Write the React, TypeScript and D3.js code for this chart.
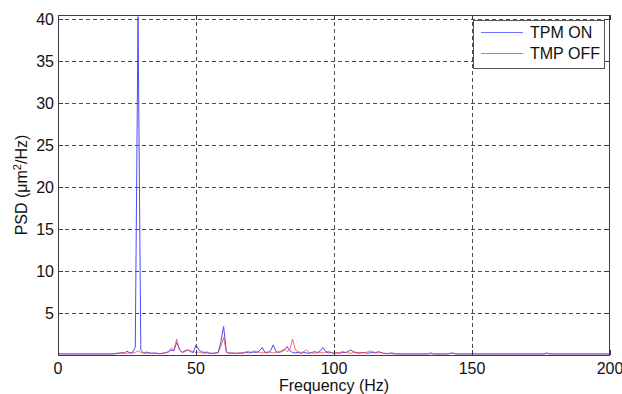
import React, { useRef, useEffect } from 'react'
import * as d3 from 'd3'

// frequency grid, 1 Hz steps from 0 to 200 Hz
const freqHz: number[] = d3.range(0, 201)

// PSD values (um^2/Hz), one per Hz
const tpmOn: number[] = [
  0.15, 0.12, 0.12, 0.11, 0.12, 0.12, 0.11, 0.12, 0.12, 0.11, 0.12, 0.12, 0.11, 0.12, 0.12, 0.11, 0.12, 0.12, 0.11, 0.12,
  0.12, 0.15, 0.2, 0.3, 0.2, 0.45, 0.25, 0.3, 0.9, 40.3, 0.6, 0.2, 0.35, 0.25, 0.2, 0.25, 0.2, 0.15, 0.2, 0.3,
  0.35, 0.6, 0.5, 1.5, 0.7, 0.3, 0.5, 0.6, 0.4, 0.3, 1.2, 0.6, 0.4, 0.3, 0.35, 0.2, 0.2, 0.25, 0.3, 1.5,
  3.4, 0.4, 0.2, 0.25, 0.2, 0.2, 0.25, 0.2, 0.3, 0.25, 0.3, 0.35, 0.3, 0.5, 0.9, 0.3, 0.25, 0.5, 1.2, 0.4,
  0.3, 0.4, 0.6, 1.0, 0.5, 0.3, 0.25, 0.3, 0.2, 0.3, 0.25, 0.2, 0.3, 0.4, 0.3, 0.5, 0.9, 0.4, 0.25, 0.3,
  0.2, 0.25, 0.2, 0.3, 0.3, 0.4, 0.6, 0.4, 0.3, 0.2, 0.25, 0.3, 0.2, 0.25, 0.3, 0.25, 0.4, 0.3, 0.2, 0.15,
  0.2, 0.25, 0.15, 0.12, 0.12, 0.11, 0.12, 0.12, 0.11, 0.12, 0.12, 0.12, 0.11, 0.12, 0.12, 0.25, 0.12, 0.12, 0.11, 0.12,
  0.12, 0.12, 0.2, 0.25, 0.12, 0.12, 0.11, 0.12, 0.12, 0.11, 0.12, 0.12, 0.11, 0.12, 0.12, 0.11, 0.12, 0.12, 0.11, 0.12,
  0.12, 0.11, 0.12, 0.12, 0.11, 0.12, 0.12, 0.11, 0.12, 0.12, 0.11, 0.12, 0.12, 0.11, 0.12, 0.12, 0.11, 0.25, 0.12, 0.12,
  0.11, 0.12, 0.12, 0.11, 0.12, 0.12, 0.11, 0.12, 0.12, 0.11, 0.12, 0.12, 0.11, 0.12, 0.12, 0.11, 0.12, 0.12, 0.11, 0.12,
  0.12
]

const tmpOff: number[] = [
  0.15, 0.15, 0.14, 0.15, 0.15, 0.14, 0.15, 0.15, 0.14, 0.15, 0.15, 0.14, 0.15, 0.15, 0.14, 0.15, 0.15, 0.14, 0.15, 0.15,
  0.15, 0.2, 0.25, 0.2, 0.3, 0.2, 0.25, 0.2, 0.3, 0.5, 0.3, 0.25, 0.2, 0.25, 0.2, 0.2, 0.15, 0.2, 0.2, 0.25,
  0.4, 0.8, 0.6, 1.9, 0.6, 0.3, 0.4, 0.6, 0.5, 0.4, 0.3, 0.35, 0.25, 0.2, 0.25, 0.2, 0.2, 0.2, 0.25, 1.0,
  2.1, 0.3, 0.25, 0.2, 0.25, 0.2, 0.2, 0.3, 0.35, 0.45, 0.3, 0.5, 0.4, 0.3, 0.25, 0.3, 0.4, 0.3, 0.25, 0.3,
  0.4, 0.5, 0.7, 0.4, 0.6, 1.9, 0.6, 0.4, 0.3, 0.4, 0.6, 0.3, 0.25, 0.2, 0.25, 0.3, 0.25, 0.3, 0.45, 0.3,
  0.2, 0.3, 0.25, 0.45, 0.3, 0.25, 0.2, 0.3, 0.25, 0.3, 0.3, 0.25, 0.35, 0.5, 0.4, 0.3, 0.25, 0.3, 0.2, 0.2,
  0.15, 0.15, 0.14, 0.15, 0.15, 0.14, 0.15, 0.15, 0.14, 0.15, 0.15, 0.14, 0.15, 0.15, 0.14, 0.15, 0.15, 0.14, 0.15, 0.15,
  0.15, 0.14, 0.15, 0.2, 0.15, 0.14, 0.15, 0.15, 0.14, 0.15, 0.15, 0.14, 0.15, 0.15, 0.14, 0.15, 0.15, 0.14, 0.15, 0.15,
  0.15, 0.14, 0.15, 0.15, 0.14, 0.15, 0.15, 0.14, 0.15, 0.15, 0.14, 0.15, 0.15, 0.14, 0.15, 0.15, 0.14, 0.15, 0.15, 0.15,
  0.15, 0.14, 0.15, 0.15, 0.14, 0.15, 0.15, 0.14, 0.15, 0.15, 0.14, 0.15, 0.15, 0.14, 0.15, 0.15, 0.14, 0.15, 0.15, 0.15,
  0.15
]

const xTicks = [0, 50, 100, 150, 200]
const yTicks = [5, 10, 15, 20, 25, 30, 35, 40]
const seriesNames = ['TPM ON', 'TMP OFF']
const seriesColors = ['#4a4aff', '#ff3c3c']

const App = () => {
  const chartRef = useRef<SVGSVGElement>(null)

  useEffect(() => {
    const svg = d3.select(chartRef.current)
    svg.selectAll('*').remove()

    const left = 58, right = 610, top = 15, bottom = 355
    const font = 'Arial, "Liberation Sans", sans-serif'
    const axisColor = '#3c3c3c'

    const x = d3.scaleLinear().domain([0, 200]).range([left, right])
    const y = d3.scaleLinear().domain([0, 40.5]).range([bottom, top])

    svg.append('rect').attr('width', 622).attr('height', 394).attr('fill', '#fff')

    // grid
    const grid = svg.append('g')
      .attr('stroke', '#4a4a4a')
      .attr('stroke-width', 1)
      .attr('stroke-dasharray', '4,3')
    grid.selectAll('line.vx')
      .data(xTicks.slice(1, -1))
      .enter()
      .append('line')
      .attr('x1', d => Math.round(x(d)) + 0.5)
      .attr('x2', d => Math.round(x(d)) + 0.5)
      .attr('y1', top)
      .attr('y2', bottom)
    grid.selectAll('line.hy')
      .data(yTicks)
      .enter()
      .append('line')
      .attr('x1', left)
      .attr('x2', right)
      .attr('y1', d => Math.round(y(d)) + 0.5)
      .attr('y2', d => Math.round(y(d)) + 0.5)

    // data lines
    svg.append('clipPath').attr('id', 'plotclip')
      .append('rect')
      .attr('x', left).attr('y', top)
      .attr('width', right - left).attr('height', bottom - top)

    const line = d3.line<number>()
      .x((d, i) => x(freqHz[i]))
      .y(d => y(d))

    const plot = svg.append('g').attr('clip-path', 'url(#plotclip)')
    plot.append('path')
      .datum(tpmOn)
      .attr('fill', 'none')
      .attr('stroke', seriesColors[0])
      .attr('stroke-width', 1)
      .attr('d', line)
    plot.append('path')
      .datum(tmpOff)
      .attr('fill', 'none')
      .attr('stroke', seriesColors[1])
      .attr('stroke-opacity', 0.75)
      .attr('stroke-width', 1)
      .attr('d', line)

    // axes box and inner ticks
    svg.append('rect')
      .attr('x', left + 0.5).attr('y', top + 0.5)
      .attr('width', right - left - 1).attr('height', bottom - top)
      .attr('fill', 'none')
      .attr('stroke', axisColor)

    const ticks = svg.append('g').attr('stroke', axisColor)
    xTicks.forEach(t => {
      const px = Math.round(x(t)) + 0.5
      ticks.append('line').attr('x1', px).attr('x2', px).attr('y1', bottom).attr('y2', bottom - 5)
      ticks.append('line').attr('x1', px).attr('x2', px).attr('y1', top).attr('y2', top + 5)
    })
    yTicks.forEach(t => {
      const py = Math.round(y(t)) + 0.5
      ticks.append('line').attr('x1', left).attr('x2', left + 5).attr('y1', py).attr('y2', py)
      ticks.append('line').attr('x1', right).attr('x2', right - 5).attr('y1', py).attr('y2', py)
    })

    // tick labels
    svg.append('g')
      .selectAll('text')
      .data(xTicks)
      .enter()
      .append('text')
      .attr('x', d => x(d))
      .attr('y', bottom + 19)
      .attr('text-anchor', 'middle')
      .attr('font-family', font)
      .attr('font-size', 16)
      .attr('fill', '#111')
      .text(d => d)

    svg.append('g')
      .selectAll('text')
      .data(yTicks)
      .enter()
      .append('text')
      .attr('x', left - 4)
      .attr('y', d => y(d) + 6)
      .attr('text-anchor', 'end')
      .attr('font-family', font)
      .attr('font-size', 16)
      .attr('fill', '#111')
      .text(d => d)

    // axis titles
    svg.append('text')
      .attr('x', (left + right) / 2)
      .attr('y', 391)
      .attr('text-anchor', 'middle')
      .attr('font-family', font)
      .attr('font-size', 16)
      .attr('fill', '#111')
      .text('Frequency (Hz)')

    const yl = svg.append('text')
      .attr('transform', `translate(27, ${(top + bottom) / 2}) rotate(-90)`)
      .attr('text-anchor', 'middle')
      .attr('font-family', font)
      .attr('font-size', 16)
      .attr('fill', '#111')
    yl.append('tspan').text('PSD (\u03bcm')
    yl.append('tspan').attr('font-size', 11).attr('dy', -6).text('2')
    yl.append('tspan').attr('dy', 6).text('/Hz)')

    // legend
    const lg = svg.append('g')
    lg.append('rect')
      .attr('x', 473.5).attr('y', 20.5)
      .attr('width', 131).attr('height', 48)
      .attr('fill', '#fff')
      .attr('stroke', '#555')
    seriesNames.forEach((name, i) => {
      const ly = 32 + i * 21
      lg.append('line')
        .attr('x1', 481).attr('x2', 523)
        .attr('y1', ly + 0.5).attr('y2', ly + 0.5)
        .attr('stroke', seriesColors[i])
        .attr('stroke-opacity', 0.8)
      lg.append('text')
        .attr('x', 530)
        .attr('y', ly + 6)
        .attr('font-family', font)
        .attr('font-size', 16)
        .attr('fill', '#111')
        .text(name)
    })
  }, [])

  return (
    <svg ref={chartRef} width={622} height={394}
      style={{ position: 'absolute', left: 0, top: 0 }} />
  )
}

export default App
